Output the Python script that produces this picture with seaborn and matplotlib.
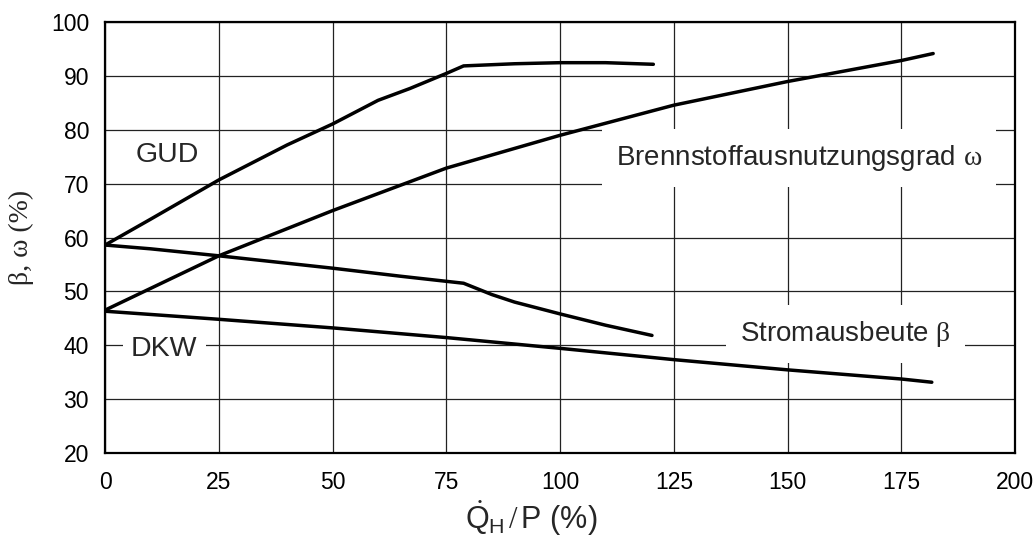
import matplotlib
matplotlib.use("Agg")
import matplotlib.pyplot as plt
import seaborn as sns
import pandas as pd

# ---- data ----
gud_omega_x = [0, 10, 25, 40, 50, 60, 67, 75, 78.8, 90, 100, 110, 120.5]
gud_omega_y = [58.6, 63.4, 70.7, 77.2, 81.1, 85.5, 87.7, 90.5, 91.9, 92.3, 92.5, 92.5, 92.2]

gud_beta_x = [0, 10, 25, 50, 65, 78.8, 85, 90, 100, 110, 120.2]
gud_beta_y = [58.6, 57.9, 56.6, 54.3, 52.8, 51.5, 49.4, 48.0, 45.8, 43.7, 41.8]

dkw_omega_x = [0, 25, 50, 75, 100, 125, 150, 175, 182]
dkw_omega_y = [46.5, 56.6, 65.0, 72.9, 79.0, 84.6, 89.0, 92.9, 94.2]

dkw_beta_x = [0, 25, 50, 75, 100, 125, 150, 175, 181.7]
dkw_beta_y = [46.3, 44.8, 43.2, 41.4, 39.4, 37.3, 35.4, 33.7, 33.1]

x_ticks = [0, 25, 50, 75, 100, 125, 150, 175, 200]
y_ticks = [20, 30, 40, 50, 60, 70, 80, 90, 100]

series = {
    "GUD omega": (gud_omega_x, gud_omega_y),
    "GUD beta": (gud_beta_x, gud_beta_y),
    "DKW omega": (dkw_omega_x, dkw_omega_y),
    "DKW beta": (dkw_beta_x, dkw_beta_y),
}

sns.set_style("white")
plt.rcParams["font.family"] = ["Liberation Sans", "DejaVu Sans"]
plt.rcParams["mathtext.fontset"] = "custom"
plt.rcParams["mathtext.rm"] = "Liberation Serif"
plt.rcParams["mathtext.sf"] = "Liberation Sans"
plt.rcParams["mathtext.it"] = "Liberation Serif:italic"

fig = plt.figure(figsize=(10.36, 5.5), dpi=100)
ax = fig.add_axes([0.1014, 0.1769, 0.8784, 0.7825])

for name, (xs, ys) in series.items():
    df = pd.DataFrame({"x": xs, "y": ys})
    sns.lineplot(data=df, x="x", y="y", ax=ax, color="black", lw=2.5,
                 sort=False, estimator=None, zorder=5)

ax.set_xlim(0, 200)
ax.set_ylim(20, 100)
ax.set_xticks(x_ticks)
ax.set_yticks(y_ticks)
ax.grid(True, color="#222222", lw=0.9, zorder=0)
ax.set_axisbelow(True)
for s in ax.spines.values():
    s.set_color("black")
    s.set_linewidth(1.6)
    s.set_visible(True)
ax.tick_params(axis="both", direction="inout", length=9, width=1.2,
               labelsize=16.5, colors="black")
ax.tick_params(axis="x", pad=9)
ax.tick_params(axis="y", pad=7)

ax.set_ylabel("β, ω (%)", family="Liberation Serif", fontsize=20)
ax.yaxis.set_label_coords(-0.078, 0.5)
ax.set_xlabel(r"$\dot{\mathsf{Q}}_{\mathsf{H}}\,/\,\mathsf{P}$ (%)", fontsize=22)
ax.xaxis.set_label_coords((531.5 - 105) / 910, -0.105)

box = dict(facecolor="white", edgecolor="none", pad=6)
ax.text(13.6, 75.3, "GUD", fontsize=20.5, ha="center", va="center", zorder=3, bbox=box)
ax.text(13.0, 39.3, "DKW", fontsize=20.5, ha="center", va="center", zorder=3, bbox=box)
ax.text(152.5, 74.8, r"Brennstoffausnutzungsgrad $\mathrm{\omega}$", fontsize=20,
        ha="center", va="center", zorder=3, bbox=dict(facecolor="white", edgecolor="none", pad=10))
ax.text(162.7, 42.1, r"Stromausbeute $\mathrm{\beta}$", fontsize=20,
        ha="center", va="center", zorder=3, bbox=dict(facecolor="white", edgecolor="none", pad=10))

fig.savefig("out.png", dpi=100)
